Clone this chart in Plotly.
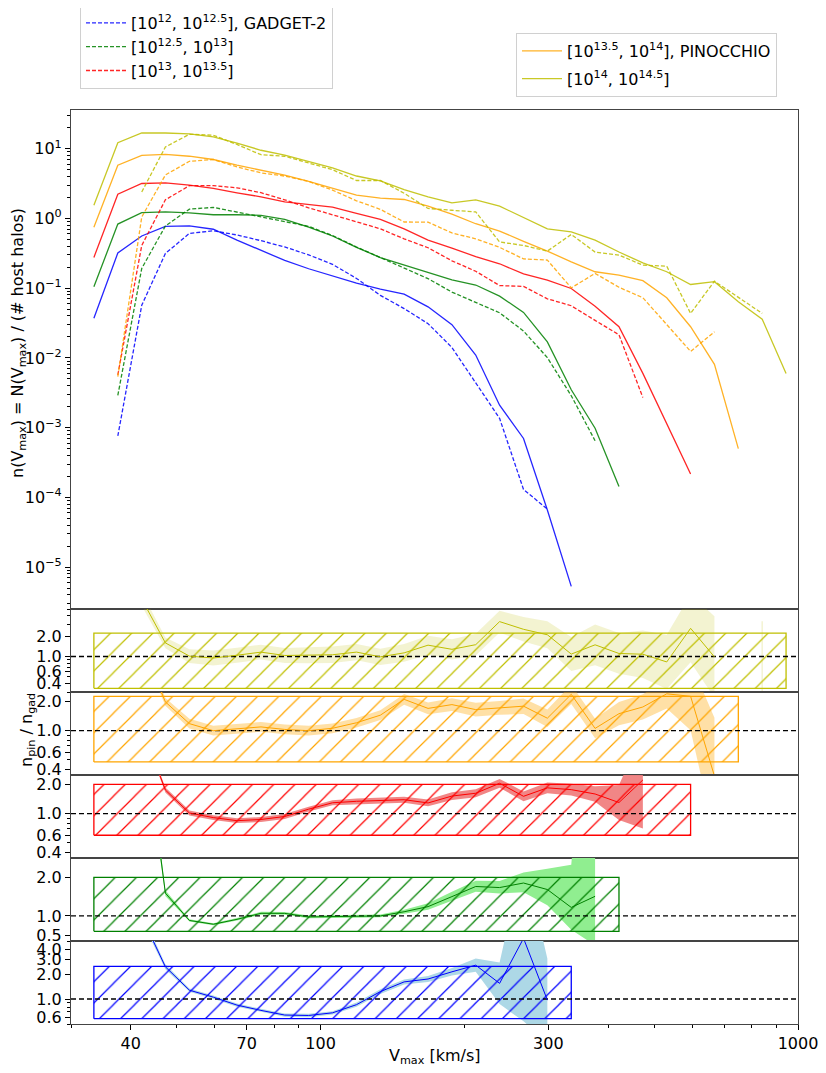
import plotly.graph_objects as go
from plotly.subplots import make_subplots

# ---------------- data ----------------
vmax_bins = [33.5, 37.6, 42.2, 47.3, 53.1, 59.6, 66.8, 75.0, 84.1, 94.4,
             105.9, 118.9, 133.4, 149.6, 167.9, 188.4, 211.3, 237.1, 266.1, 298.5,
             335.0, 375.8, 421.7, 473.2, 530.9, 595.7, 668.3, 749.9, 841.4, 944.1]

N = None
# PINOCCHIO (solid lines)
pin_12_0 = [0.037, 0.32, 0.56, 0.77, 0.78, 0.70, 0.49, 0.35, 0.25, 0.19,
            0.15, 0.118, 0.097, 0.082, 0.054, 0.030, 0.011, 0.0021, 0.0007, 6.6e-5,
            5.3e-6, N, N, N, N, N, N, N, N, N]
pin_12_5 = [0.105, 0.83, 1.21, 1.24, 1.2, 1.13, 1.13, 1.11, 0.97, 0.75,
            0.56, 0.385, 0.275, 0.216, 0.17, 0.132, 0.111, 0.077, 0.045, 0.017,
            0.0035, 0.00098, 0.000143, N, N, N, N, N, N, N]
pin_13_0 = [0.276, 2.23, 3.17, 3.24, 3.0, 2.69, 2.33, 2.04, 1.73, 1.58,
            1.45, 1.18, 0.97, 0.71, 0.49, 0.375, 0.284, 0.224, 0.16, 0.13,
            0.099, 0.055, 0.028, 0.006, 0.00116, 0.000217, N, N, N, N]
pin_13_5 = [0.75, 5.8, 8.0, 8.3, 7.8, 7.0, 5.8, 4.92, 4.17, 3.4,
            2.7, 2.16, 1.95, 1.87, 1.5, 1.15, 0.84, 0.66, 0.47, 0.34,
            0.239, 0.172, 0.154, 0.128, 0.073, 0.028, 0.0081, 0.0005, N, N]
pin_14_0 = [1.55, 12.2, 16.8, 16.8, 16.3, 14.8, 12.0, 9.5, 8.07, 6.47,
            5.3, 4.06, 3.46, 2.6, 2.04, 1.67, 1.85, 1.5, 1.03, 0.71,
            0.64, 0.49, 0.33, 0.231, 0.172, 0.113, 0.124, 0.064, 0.036, 0.006]

# GADGET-2 (dashed lines)
gad_12_0 = [N, 7.6e-4, 0.057, 0.315, 0.61, 0.665, 0.58, 0.48, 0.39, 0.30,
            0.22, 0.138, 0.079, 0.051, 0.031, 0.0141, 0.0043, 0.00136, 0.00013, 6.8e-5,
            N, N, N, N, N, N, N, N, N, N]
gad_12_5 = [N, 0.0029, 0.192, 0.78, 1.36, 1.44, 1.24, 1.04, 0.91, 0.77,
            0.57, 0.39, 0.275, 0.195, 0.137, 0.088, 0.063, 0.0444, 0.0243, 0.0101,
            0.00287, 0.00065, N, N, N, N, N, N, N, N]
gad_13_0 = [N, 0.0057, 0.41, 1.85, 2.95, 2.95, 2.75, 2.34, 1.85, 1.42,
            1.12, 0.88, 0.71, 0.51, 0.38, 0.247, 0.175, 0.109, 0.106, 0.0705,
            0.056, 0.0345, 0.0215, 0.0027, N, N, N, N, N, N]
gad_13_5 = [N, 0.0054, 1.05, 4.2, 6.6, 7.0, 5.5, 4.5, 4.05, 3.4,
            2.55, 1.79, 1.35, 0.89, 0.885, 0.62, 0.51, 0.385, 0.263, 0.253,
            0.101, 0.163, 0.103, 0.073, 0.0305, 0.0124, 0.0237, N, N, N]
gad_14_0 = [N, N, 2.4, 10.6, 16.1, 15.6, 11.5, 8.2, 7.8, 6.2,
            5.0, 3.5, 3.5, 2.3, 1.39, 1.31, 1.24, 0.46, 0.41, 0.34,
            0.59, 0.33, 0.298, 0.214, 0.207, 0.0435, 0.126, N, 0.0435, N]

# half-width (dex) of the ratio uncertainty band
err_12_0 = [N, 0.1, 0.05, 0.03, 0.02, 0.02, 0.02, 0.02, 0.02, 0.02,
            0.02, 0.025, 0.03, 0.03, 0.035, 0.045, 0.08, 0.25, 1.0, 0.5,
            N, N, N, N, N, N, N, N, N, N]
err_12_5 = [N, 0.1, 0.03, 0.02, 0.015, 0.015, 0.015, 0.015, 0.015, 0.015,
            0.015, 0.015, 0.015, 0.02, 0.03, 0.035, 0.035, 0.04, 0.06, 0.12,
            0.28, 0.8, N, N, N, N, N, N, N, N]
err_13_0 = [N, 0.1, 0.03, 0.025, 0.025, 0.025, 0.025, 0.025, 0.025, 0.025,
            0.025, 0.03, 0.03, 0.03, 0.035, 0.04, 0.04, 0.045, 0.05, 0.055,
            0.06, 0.08, 0.18, 0.5, N, N, N, N, N, N]
err_13_5 = [N, 0.1, 0.05, 0.04, 0.05, 0.05, 0.05, 0.05, 0.05, 0.05,
            0.05, 0.05, 0.05, 0.055, 0.06, 0.065, 0.07, 0.07, 0.08, 0.09,
            0.1, 0.1, 0.12, 0.13, 0.15, 0.35, 0.6, N, N, N]
err_14_0 = [N, N, 0.1, 0.08, 0.1, 0.11, 0.11, 0.11, 0.11, 0.12,
            0.12, 0.12, 0.12, 0.13, 0.14, 0.15, 0.16, 0.16, 0.18, 0.2,
            0.25, 0.3, 0.3, 0.35, 0.4, 0.5, 0.6, N, 0.6, N]

# hatched reference boxes (ratio limits)
box_lo = [0.58, 0.6, 0.6, 0.477, 0.34]
box_hi = [2.47, 2.0, 2.0, 2.25, 2.21]

mass_labels = ["[10<sup>12</sup>, 10<sup>12.5</sup>]",
               "[10<sup>12.5</sup>, 10<sup>13</sup>]",
               "[10<sup>13</sup>, 10<sup>13.5</sup>]",
               "[10<sup>13.5</sup>, 10<sup>14</sup>]",
               "[10<sup>14</sup>, 10<sup>14.5</sup>]"]

pins = [pin_12_0, pin_12_5, pin_13_0, pin_13_5, pin_14_0]
gads = [gad_12_0, gad_12_5, gad_13_0, gad_13_5, gad_14_0]
errs = [err_12_0, err_12_5, err_13_0, err_13_5, err_14_0]

colors = ["rgb(0,0,255)", "rgb(0,128,0)", "rgb(255,0,0)", "rgb(255,165,0)", "rgb(191,191,0)"]
band_colors = ["rgb(173,216,230)", "rgb(144,238,144)", "rgba(240,128,128,0.95)",
               "rgba(255,165,0,0.35)", "rgba(191,191,0,0.18)"]

# ---------------- figure geometry ----------------
OFF = 8                       # page body margin of the browser
W, H = 826 - OFF, 1073 - OFF  # figure size so it fits the window
ml, mt = 71 - OFF, 110 - OFF
pw, plot_h = 727, 914
mr = W - ml - pw
mb = H - mt - plot_h

def px_x(p):   # reference window pixel -> paper coordinate
    return (p - OFF - ml) / pw
def px_y(p):
    return (mt + plot_h - (p - OFF)) / plot_h

fig = make_subplots(rows=6, cols=1, shared_xaxes=True, vertical_spacing=0)

# main panel
for i in range(5):
    xs = [vmax_bins[k] for k in range(30) if pins[i][k] is not None]
    ys = [pins[i][k] for k in range(30) if pins[i][k] is not None]
    show = i >= 3
    name = mass_labels[i] + (", PINOCCHIO" if i == 3 else "")
    fig.add_trace(go.Scatter(x=xs, y=ys, mode="lines", line=dict(color=colors[i], width=1.3),
                             opacity=0.85, name=name, showlegend=show, legend="legend2",
                             legendgroup="p%d" % i),
                  row=1, col=1)
for i in range(5):
    xs = [vmax_bins[k] for k in range(30) if gads[i][k] is not None]
    ys = [gads[i][k] for k in range(30) if gads[i][k] is not None]
    show = i <= 2
    name = mass_labels[i] + (", GADGET-2" if i == 0 else "")
    fig.add_trace(go.Scatter(x=xs, y=ys, mode="lines",
                             line=dict(color=colors[i], width=1.3, dash="4px,2px"),
                             opacity=0.85, name=name, showlegend=show, legend="legend",
                             legendgroup="g%d" % i),
                  row=1, col=1)

# ratio panels: row 2 = highest mass (yellow) ... row 6 = lowest (blue)
for i in range(5):
    row = 6 - i
    ratio = []
    for k in range(30):
        p, g = pins[i][k], gads[i][k]
        ratio.append(p / g if (p is not None and g is not None) else None)
    seg = []
    segs = []
    for k in range(30):
        if ratio[k] is not None and errs[i][k] is not None:
            seg.append(k)
        else:
            if seg:
                segs.append(seg)
            seg = []
    if seg:
        segs.append(seg)
    for s in segs:
        up = [ratio[k] * 10 ** errs[i][k] for k in s]
        lo = [ratio[k] / 10 ** errs[i][k] for k in s]
        if len(s) == 1:
            fig.add_trace(go.Scatter(x=[vmax_bins[s[0]], vmax_bins[s[0]]], y=[lo[0], up[0]],
                                     mode="lines", line=dict(color=band_colors[i], width=1.5),
                                     showlegend=False, hoverinfo="skip"), row=row, col=1)
            continue
        bx = [vmax_bins[k] for k in s] + [vmax_bins[k] for k in reversed(s)]
        by = up + lo[::-1]
        fig.add_trace(go.Scatter(x=bx, y=by, mode="lines", fill="toself",
                                 fillcolor=band_colors[i], line=dict(width=0),
                                 showlegend=False, hoverinfo="skip"), row=row, col=1)
    last = max(k for k in range(30) if pins[i][k] is not None)
    x0, x1 = vmax_bins[0], vmax_bins[last]
    fig.add_trace(go.Scatter(x=[x0, x1, x1, x0, x0],
                             y=[box_lo[i], box_lo[i], box_hi[i], box_hi[i], box_lo[i]],
                             mode="lines", fill="toself", fillcolor="rgba(0,0,0,0)",
                             fillpattern=dict(shape="/", fgcolor=colors[i], bgcolor="rgba(0,0,0,0)",
                                              size=15, solidity=0.08, fillmode="replace"),
                             line=dict(color=colors[i], width=1.3),
                             showlegend=False, hoverinfo="skip"), row=row, col=1)
    fig.add_trace(go.Scatter(x=[30, 1000], y=[1, 1], mode="lines",
                             line=dict(color="black", width=1.3, dash="5px,3px"),
                             showlegend=False, hoverinfo="skip"), row=row, col=1)
    fig.add_trace(go.Scatter(x=vmax_bins, y=ratio, mode="lines",
                             line=dict(color=colors[i], width=1.0),
                             showlegend=False, connectgaps=False), row=row, col=1)

# ---------------- axes ----------------
font = dict(family="DejaVu Sans", size=16, color="black")
axline = dict(showline=True, mirror=True, linecolor="#444444", linewidth=1.2,
              showgrid=False, zeroline=False, tickcolor="black")

bounds = [110, 609, 692, 775, 858, 941, 1024]
for r in range(6):
    top, bot = bounds[r], bounds[r + 1]
    fig.layout["yaxis" + ("" if r == 0 else str(r + 1))].domain = [px_y(bot), px_y(top)]

x_minor = [30, 50, 60, 80, 90, 200, 400, 500, 600, 700, 800, 900]
for r in range(6):
    xa = "xaxis" + ("" if r == 0 else str(r + 1))
    bottom = (r == 5)
    fig.layout[xa].update(type="log", range=[1.47712, 3.0], tickvals=[40, 70, 100, 300, 1000],
                          ticktext=["40", "70", "100", "300", "1000"], ticklen=5,
                          ticks="outside" if bottom else "",
                          minor=dict(tickvals=x_minor, ticks="outside" if bottom else "",
                                     ticklen=3, tickcolor="black"),
                          showticklabels=bottom, tickfont=font, **axline)

main_minor = []
for e in range(-6, 2):
    for m in range(2, 10):
        main_minor.append(m * 10.0 ** e)
fig.layout.yaxis.update(type="log", range=[-5.6, 1.555], ticks="outside",
                        tickvals=[1e-5, 1e-4, 1e-3, 1e-2, 1e-1, 1, 10],
                        ticktext=["10<sup>\u22125</sup>", "10<sup>\u22124</sup>", "10<sup>\u22123</sup>",
                                  "10<sup>\u22122</sup>", "10<sup>\u22121</sup>", "10<sup>0</sup>",
                                  "10<sup>1</sup>"],
                        ticklen=5, minor=dict(tickvals=main_minor, ticks="outside", ticklen=3,
                                              tickcolor="black"),
                        tickfont=font, **axline)

r_minor = [0.3, 0.5, 0.7, 0.8, 0.9, 3, 4, 5]
fig.layout.yaxis2.update(type="log", range=[-0.5229, 0.6990], tickvals=[0.4, 0.6, 1.0, 2.0],
                         ticktext=["0.4", "0.6", "1.0", "2.0"], ticklen=5, ticks="outside",
                         minor=dict(tickvals=r_minor, ticks="outside", ticklen=3, tickcolor="black"),
                         tickfont=font, **axline)
fig.layout.yaxis3.update(type="log", range=[-0.4559, 0.3979], tickvals=[0.4, 0.6, 1.0, 2.0],
                         ticktext=["0.4", "0.6", "1.0", "2.0"], ticklen=5, ticks="outside",
                         minor=dict(tickvals=r_minor, ticks="outside", ticklen=3, tickcolor="black"),
                         tickfont=font, **axline)
fig.layout.yaxis4.update(type="log", range=[-0.4559, 0.3979], tickvals=[0.4, 0.6, 1.0, 2.0],
                         ticktext=["0.4", "0.6", "1.0", "2.0"], ticklen=5, ticks="outside",
                         minor=dict(tickvals=r_minor, ticks="outside", ticklen=3, tickcolor="black"),
                         tickfont=font, **axline)
fig.layout.yaxis5.update(type="linear", range=[0.35, 2.5], tickvals=[0.5, 1.0, 2.0],
                         ticktext=["0.5", "1.0", "2.0"], ticklen=5, ticks="outside",
                         tickfont=font, **axline)
fig.layout.yaxis6.update(type="log", range=[-0.3010, 0.6990], tickvals=[0.6, 1.0, 2.0, 3.0, 4.0],
                         ticktext=["0.6", "1.0", "2.0", "3.0", "4.0"], ticklen=5, ticks="outside",
                         minor=dict(tickvals=[0.5, 0.7, 0.8, 0.9, 5], ticks="outside", ticklen=3,
                                    tickcolor="black"),
                         tickfont=font, **axline)

fig.update_layout(
    width=W, height=H,
    margin=dict(l=ml, r=mr, t=mt, b=mb, autoexpand=False),
    plot_bgcolor="white", paper_bgcolor="white",
    font=font,
    legend=dict(x=px_x(80), y=px_y(5), xanchor="left", yanchor="top",
                bgcolor="white", bordercolor="#d0d0d0", borderwidth=1,
                font=dict(family="DejaVu Sans", size=16, color="black"),
                itemwidth=40, tracegroupgap=0),
    legend2=dict(x=px_x(516), y=px_y(33), xanchor="left", yanchor="top",
                 bgcolor="white", bordercolor="#d0d0d0", borderwidth=1,
                 font=dict(family="DejaVu Sans", size=16, color="black"),
                 itemwidth=40, tracegroupgap=4),
    annotations=[
        dict(text="n(V<sub>max</sub>) = N(V<sub>max</sub>) / (# host halos)", xref="paper", yref="paper",
             x=px_x(18), y=px_y(343), xanchor="center", yanchor="middle", textangle=-90,
             showarrow=False, font=dict(family="DejaVu Sans", size=16, color="black")),
        dict(text="n<sub>pin</sub> / n<sub>gad</sub>", xref="paper", yref="paper",
             x=px_x(27), y=px_y(730), xanchor="center", yanchor="middle", textangle=-90,
             showarrow=False, font=dict(family="DejaVu Sans", size=16, color="black")),
        dict(text="V<sub>max</sub> [km/s]", xref="paper", yref="paper",
             x=px_x(434), y=px_y(1056), xanchor="center", yanchor="middle", showarrow=False,
             font=dict(family="DejaVu Sans", size=16, color="black")),
    ],
)

fig.write_html("out.html")
